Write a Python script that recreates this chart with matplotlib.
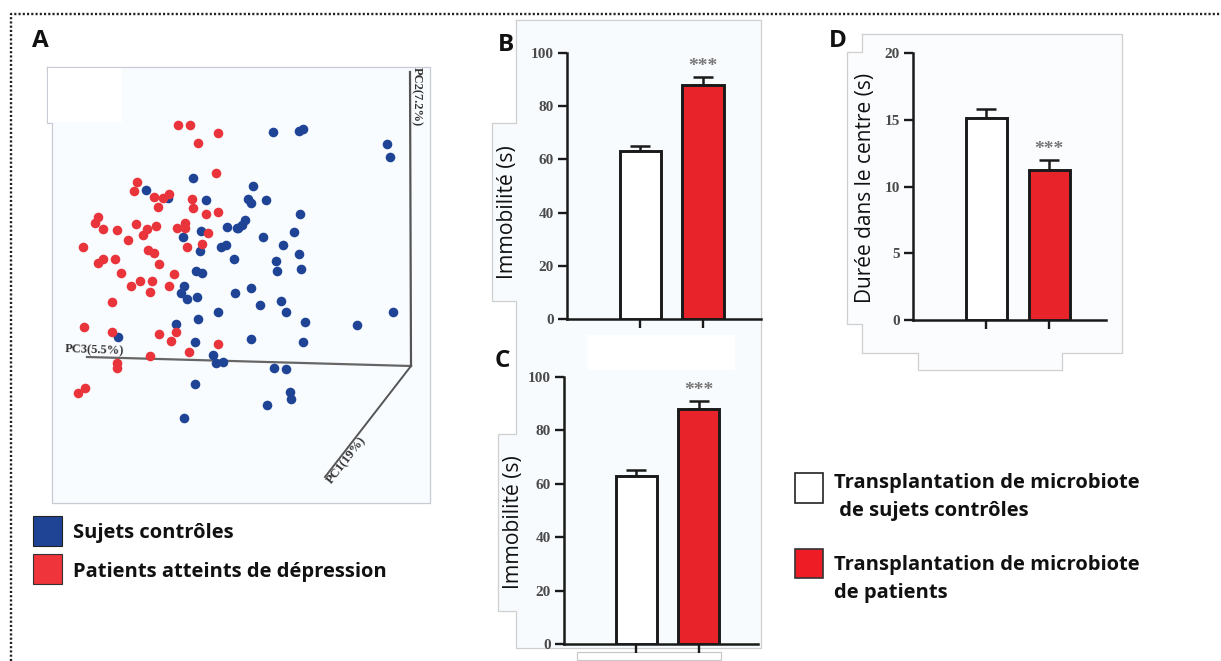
#!/usr/bin/env python3

import matplotlib
matplotlib.use("Agg")
import matplotlib.pyplot as plt
from matplotlib.patches import Rectangle

W, H = 1221, 661

# panel A, positions (projected PCoA scores)
red_x = [178, 190, 218, 198, 216, 137, 134, 154, 163, 169, 158, 192, 193, 206, 218, 98, 95, 103, 117,
         136, 147, 156, 143, 177, 185, 185, 208, 128, 83, 148, 154, 187, 202, 103, 98, 115, 159, 121,
         174, 140, 152, 131, 169, 150, 112, 84, 112, 159, 176, 171, 218, 189, 150, 117, 117, 85, 78]
red_y = [125, 125, 133, 143, 173, 182, 191, 197, 198, 194, 207, 199, 208, 214, 212, 217, 223, 229, 230,
         224, 229, 226, 235, 228, 223, 228, 233, 240, 247, 250, 253, 247, 244, 259, 263, 259, 264, 273,
         274, 281, 281, 286, 286, 292, 302, 327, 332, 334, 332, 341, 344, 352, 356, 363, 368, 388, 393]
blue_x = [193, 146, 168, 206, 227, 237, 183, 201, 200, 221, 226, 234, 196, 202, 184, 181, 187, 197, 235,
          218, 198, 176, 118, 195, 213, 216, 223, 195, 184, 273, 299, 303, 387, 390, 253, 248, 251, 266,
          300, 245, 242, 238, 294, 263, 283, 299, 276, 277, 301, 251, 260, 281, 286, 305, 357, 393, 251,
          303, 274, 286, 290, 291, 267]
blue_y = [178, 190, 198, 200, 227, 228, 237, 231, 251, 247, 245, 259, 271, 273, 286, 293, 299, 297, 293,
          312, 319, 324, 337, 342, 355, 363, 362, 384, 418, 132, 131, 129, 144, 157, 186, 199, 203, 200,
          214, 220, 225, 228, 232, 237, 245, 254, 261, 271, 269, 288, 305, 301, 312, 322, 325, 312, 339,
          342, 368, 369, 392, 399, 405]

# panels B, C, D
immob_means = [63, 88]
immob_errs = [2, 3]
immob_ticks = [0, 20, 40, 60, 80, 100]
centre_means = [15.1, 11.2]
centre_errs = [0.7, 0.8]
centre_ticks = [0, 5, 10, 15, 20]

RED = "#e8232a"
BLUE = "#1f4496"
DOT_RED = "#e8343a"
SANS = ["Open Sans", "DejaVu Sans"]


def ax_px(fig, x0, y0, x1, y1):
    # axes from pixel box, y from the top
    return fig.add_axes([x0 / W, 1 - y1 / H, (x1 - x0) / W, (y1 - y0) / H])


def outline(bg, pts, face="#ffffff", edge="#cfcfcf", lw=0.9):
    xs = [p[0] for p in pts] + [pts[0][0]]
    ys = [p[1] for p in pts] + [pts[0][1]]
    bg.fill(xs, ys, color=face, zorder=1)
    bg.plot(xs, ys, color=edge, lw=lw, zorder=1.5)


def bar_panel(fig, box, xlim, means, errs, ticks, star_y):
    ax = ax_px(fig, *box)
    ax.patch.set_alpha(0)
    ax.bar([0, 1], means, width=0.66, color=["white", RED], edgecolor="#1a1a1a", linewidth=2.1, zorder=3)
    ax.errorbar([0, 1], means, yerr=[[0, 0], errs], fmt="none", ecolor="#1a1a1a",
                elinewidth=1.8, capsize=7.5, capthick=1.8, zorder=2)
    ax.set_xlim(*xlim)
    ax.set_ylim(0, ticks[-1])
    ax.set_xticks([0, 1])
    ax.set_xticklabels([])
    ax.set_yticks(ticks)
    ax.tick_params(axis="both", length=6.5, width=1.7, color="#1a1a1a", pad=3)
    for lab in ax.get_yticklabels():
        lab.set_family("Liberation Serif")
        lab.set_weight("bold")
        lab.set_fontsize(11)
        lab.set_color("#4a4a4a")
    for s in ["top", "right"]:
        ax.spines[s].set_visible(False)
    for s in ["left", "bottom"]:
        ax.spines[s].set_linewidth(1.8)
        ax.spines[s].set_color("#1a1a1a")
    ax.text(1, star_y, "***", ha="center", va="center", fontsize=14, color="#777777",
            family="Liberation Serif", weight="bold", clip_on=False)
    return ax


def main():
    fig = plt.figure(figsize=(W / 100, H / 100), dpi=100, facecolor="white")
    bg = fig.add_axes([0, 0, 1, 1])
    bg.set_xlim(0, W)
    bg.set_ylim(H, 0)
    bg.axis("off")

    # dotted frame
    bg.plot([11, 11, W], [H, 14, 14], color="#222222", lw=1.7, ls=(0, (0.9, 0.9)), zorder=1)

    # panel backgrounds
    outline(bg, [(47, 67), (430, 67), (430, 503), (52, 503), (52, 123), (47, 123)], face="#f9fcff", edge="#c8ccd2")
    bg.add_patch(Rectangle((48, 68), 74, 54, fc="white", ec="none", zorder=1.6))
    outline(bg, [(516, 20), (761, 20), (761, 648), (516, 648), (516, 611), (498, 611), (498, 434), (516, 434),
                 (516, 301), (492, 301), (492, 123), (516, 123)], face="#f8fbfe")
    bg.add_patch(Rectangle((587, 335), 148, 35, fc="white", ec="none", zorder=1.6))
    bg.add_patch(Rectangle((577, 652), 144, 8, fc="white", ec="#c8c8c8", lw=0.9, zorder=1.6))
    outline(bg, [(862, 34), (1122, 34), (1122, 353), (1062, 353), (1062, 370), (918, 370), (918, 353), (862, 353),
                 (862, 324), (847, 324), (847, 52), (862, 52)], face="#fbfcfd")

    # panel A
    ax = ax_px(fig, 52, 66, 430, 503)
    ax.patch.set_alpha(0)
    ax.set_xlim(52, 430)
    ax.set_ylim(503, 66)
    ax.axis("off")
    ax.plot([87, 411], [357, 366], color="#666666", lw=1.6, zorder=1)
    ax.plot([410, 411], [72, 366], color="#555555", lw=1.6, zorder=1)
    ax.plot([411, 325], [366, 477], color="#555555", lw=1.4, zorder=1)
    ax.scatter(blue_x, blue_y, s=48, color=BLUE, linewidths=0, zorder=2)
    ax.scatter(red_x, red_y, s=48, color=DOT_RED, linewidths=0, zorder=3)
    serif = dict(family="Liberation Serif", weight="bold", color="#333333", fontsize=9)
    ax.text(95, 350, "PC3(5.5%)", ha="center", va="center", rotation=-2, zorder=4, **serif)
    ax.text(417, 97, "PC2(7.2%)", ha="center", va="center", rotation=-90, zorder=4, **serif)
    ax.text(347, 460, "PC1(19%)", ha="center", va="center", rotation=52, zorder=4, **serif)

    # bars
    bar_panel(fig, (567, 53, 761, 319), (-1.176, 1.93), immob_means, immob_errs, immob_ticks, 95)
    bar_panel(fig, (564, 377, 758, 644), (-1.155, 1.951), immob_means, immob_errs, immob_ticks, 95)
    bar_panel(fig, (913, 53, 1106, 320), (-1.164, 1.9), centre_means, centre_errs, centre_ticks, 12.75)

    # axis titles, drawn on top of the panels
    over = fig.add_axes([0, 0, 1, 1])
    over.set_xlim(0, W)
    over.set_ylim(H, 0)
    over.axis("off")
    over.patch.set_alpha(0)
    ylab = dict(ha="center", va="center", rotation=90, family=SANS, color="#111111")
    over.text(508, 212, "Immobilité (s)", fontsize=15.2, **ylab)
    over.text(513, 522, "Immobilité (s)", fontsize=15.2, **ylab)
    over.text(866, 188, "Durée dans le centre (s)", fontsize=15, **ylab)

    letters = dict(family=SANS, weight="bold", fontsize=17.5, color="#111111", va="center", ha="center")
    over.text(40, 41, "A", **letters)
    over.text(506, 45, "B", **letters)
    over.text(502, 361, "C", **letters)
    over.text(838, 41, "D", **letters)

    # legends
    leg = dict(family=SANS, weight="bold", fontsize=14.5, color="#111111", va="center", ha="left")
    over.add_patch(Rectangle((33, 516), 29, 30, fc=BLUE, ec="#222222", lw=0.8))
    over.add_patch(Rectangle((33, 554), 29, 30, fc="#f0343c", ec="#333333", lw=0.8))
    over.text(73, 533, "Sujets contrôles", **leg)
    over.text(73, 572, "Patients atteints de dépression", **leg)
    over.add_patch(Rectangle((795, 473), 28, 30, fc="white", ec="#222222", lw=1.2))
    over.add_patch(Rectangle((795, 549), 28, 29, fc="#ee1c25", ec="#333333", lw=1.2))
    over.text(834, 483, "Transplantation de microbiote", **leg)
    over.text(834, 511, " de sujets contrôles", **leg)
    over.text(834, 565, "Transplantation de microbiote", **leg)
    over.text(834, 593, "de patients", **leg)

    fig.savefig("out.png", dpi=100)


if __name__ == "__main__":
    main()
